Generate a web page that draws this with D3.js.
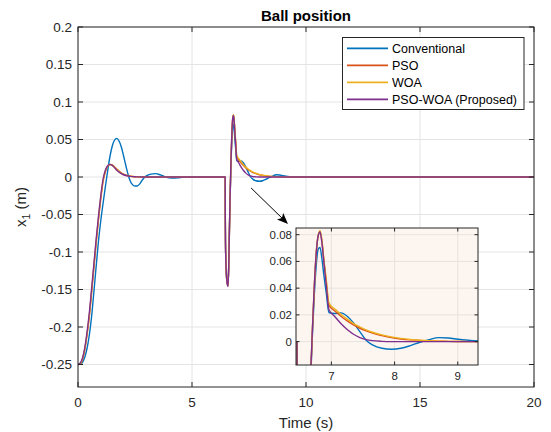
<!DOCTYPE html>
<html><head><meta charset="utf-8">
<script src="https://cdn.jsdelivr.net/npm/d3@7"></script>
<style>
body{margin:0;background:#fff}
text{font-family:"Liberation Sans",Arial,Helvetica,sans-serif;fill:#262626}
</style>
</head><body><svg id="c" width="551" height="432"></svg>
<script>
// ---- data ----
const time = [
  0, 0.1, 0.2, 0.3, 0.4, 0.5, 0.6, 0.7, 0.8, 0.9,
  1.0, 1.1, 1.2, 1.3, 1.4, 1.5, 1.6, 1.7, 1.8, 1.9,
  2.0, 2.1, 2.2, 2.3, 2.4, 2.5, 2.6, 2.7, 2.8, 2.9,
  3.0, 3.2, 3.4, 3.6, 3.8, 4.0, 4.2, 4.4, 4.6, 5.0,
  6.0, 6.455, 6.46, 6.47, 6.50, 6.54, 6.58, 6.61, 6.64, 6.67,
  6.70, 6.73, 6.76, 6.79, 6.82, 6.85, 6.88, 6.92, 6.96, 7.05,
  7.15, 7.25, 7.35, 7.45, 7.55, 7.65, 7.8, 7.95, 8.1, 8.25,
  8.4, 8.55, 8.7, 8.85, 9.0, 9.2, 9.4, 9.7, 10, 20
];
const conventional = [
  -0.25, -0.2495, -0.247, -0.24, -0.228, -0.21, -0.185, -0.152, -0.118, -0.085,
  -0.058, -0.035, -0.013, 0.008, 0.027, 0.041, 0.049, 0.0515, 0.048, 0.04,
  0.028, 0.015, 0.003, -0.006, -0.0105, -0.012, -0.012, -0.0095, -0.005, -0.001,
  0.0015, 0.0038, 0.0045, 0.003, 0.0005, -0.0012, -0.0015, -0.001, -0.0003, 0,
  0, 0, -0.05, -0.09, -0.123, -0.14, -0.144, -0.12, -0.074, -0.03,
  0.005, 0.035, 0.057, 0.069, 0.0705, 0.062, 0.05, 0.036, 0.0218, 0.021,
  0.0215, 0.019, 0.014, 0.0075, 0.001, -0.0025, -0.005, -0.0057, -0.005, -0.003,
  -0.0005, 0.0015, 0.003, 0.0027, 0.0018, 0.0008, 0.0003, 0, 0, 0
];
const pso = [
  -0.25, -0.249, -0.243, -0.23, -0.21, -0.185, -0.153, -0.12, -0.087, -0.056,
  -0.029, -0.006, 0.007, 0.0145, 0.0167, 0.016, 0.0135, 0.0105, 0.0078, 0.0055,
  0.0038, 0.0026, 0.0017, 0.0011, 0.0007, 0.0004, 0.0002, 0.0001, 0, 0,
  0, 0, 0, 0, 0, 0, 0, 0, 0, 0,
  0, 0, -0.05, -0.09, -0.124, -0.141, -0.145, -0.12, -0.073, -0.028,
  0.009, 0.041, 0.066, 0.079, 0.0825, 0.075, 0.061, 0.044, 0.0275, 0.023,
  0.019, 0.0155, 0.0125, 0.01, 0.008, 0.0063, 0.0045, 0.003, 0.002, 0.0013,
  0.0008, 0.0005, 0.0003, 0.0002, 0.0001, 0, 0, 0, 0, 0
];
const woa = [
  -0.25, -0.249, -0.242, -0.229, -0.208, -0.183, -0.151, -0.118, -0.085, -0.054,
  -0.027, -0.005, 0.008, 0.0145, 0.0167, 0.0158, 0.013, 0.01, 0.0072, 0.005,
  0.0034, 0.0023, 0.0015, 0.001, 0.0006, 0.0004, 0.0002, 0.0001, 0, 0,
  0, 0, 0, 0, 0, 0, 0, 0, 0, 0,
  0, 0, -0.05, -0.09, -0.124, -0.141, -0.145, -0.12, -0.073, -0.028,
  0.009, 0.041, 0.066, 0.079, 0.083, 0.076, 0.062, 0.046, 0.029, 0.0245,
  0.0205, 0.0168, 0.0135, 0.011, 0.0088, 0.007, 0.005, 0.0035, 0.0024, 0.0016,
  0.001, 0.0006, 0.0004, 0.0002, 0.0001, 0, 0, 0, 0, 0
];
const psoWoa = [
  -0.25, -0.248, -0.241, -0.227, -0.206, -0.18, -0.148, -0.115, -0.082, -0.052,
  -0.025, -0.003, 0.009, 0.015, 0.0168, 0.0155, 0.0125, 0.009, 0.0065, 0.0045,
  0.003, 0.002, 0.0013, 0.0008, 0.0005, 0.0003, 0.0002, 0.0001, 0, 0,
  0, 0, 0, 0, 0, 0, 0, 0, 0, 0,
  0, 0, -0.05, -0.09, -0.125, -0.142, -0.146, -0.12, -0.072, -0.027,
  0.01, 0.042, 0.066, 0.079, 0.082, 0.074, 0.06, 0.042, 0.024, 0.019,
  0.0135, 0.009, 0.0055, 0.003, 0.0015, 0.0007, 0.0002, 0, 0, 0,
  0, 0, 0, 0, 0, 0, 0, 0, 0, 0
];
const seriesNames = ["Conventional", "PSO", "WOA", "PSO-WOA (Proposed)"];
const seriesColors = ["#0072BD", "#D95319", "#EDB120", "#7E2F8E"];
const xTicks = [0, 5, 10, 15, 20];
const yTicks = [-0.25, -0.2, -0.15, -0.1, -0.05, 0, 0.05, 0.1, 0.15, 0.2];
const insetXTicks = [7, 8, 9];
const insetYTicks = [0, 0.02, 0.04, 0.06, 0.08];
const arrowFrom = [7.59, -0.0146];
const arrowTo = [9.21, -0.0625];

// ---- drawing ----
const allSeries = [conventional, pso, woa, psoWoa].map((vals, i) => ({
  name: seriesNames[i], color: seriesColors[i],
  pts: time.map((t, k) => [t, vals[k]])
}));
const fmt = v => String(+v.toFixed(3));
const svg = d3.select("#c");
const AX = "#262626", GRID = "#e4e4e4";

function panel(g, x, y, xt, yt, opts) {
  const [x0, x1] = x.range(), [y0, y1] = y.range(); // y0 bottom, y1 top
  if (opts.bg) g.append("rect").attr("x", x0).attr("y", y1).attr("width", x1 - x0).attr("height", y0 - y1).attr("fill", opts.bg);
  // grid
  g.selectAll(null).data(xt).enter().append("line")
    .attr("x1", d => x(d)).attr("x2", d => x(d)).attr("y1", y0).attr("y2", y1)
    .attr("stroke", opts.grid).attr("stroke-width", 1);
  g.selectAll(null).data(yt).enter().append("line")
    .attr("y1", d => y(d)).attr("y2", d => y(d)).attr("x1", x0).attr("x2", x1)
    .attr("stroke", opts.grid).attr("stroke-width", 1);
  // lines
  const cid = "clip" + opts.id;
  g.append("clipPath").attr("id", cid).append("rect")
    .attr("x", x0).attr("y", y1).attr("width", x1 - x0).attr("height", y0 - y1);
  const line = d3.line().x(d => x(d[0])).y(d => y(d[1])).curve(d3.curveMonotoneX);
  const lg = g.append("g").attr("clip-path", `url(#${cid})`);
  allSeries.forEach(s => {
    lg.append("path").attr("d", line(s.pts)).attr("fill", "none")
      .attr("stroke", s.color).attr("stroke-width", 1.4).attr("stroke-linejoin", "round");
  });
  // ticks inward on all sides
  const tl = opts.tick;
  xt.forEach(d => {
    g.append("line").attr("x1", x(d)).attr("x2", x(d)).attr("y1", y0).attr("y2", y0 - tl).attr("stroke", AX);
    g.append("line").attr("x1", x(d)).attr("x2", x(d)).attr("y1", y1).attr("y2", y1 + tl).attr("stroke", AX);
  });
  yt.forEach(d => {
    g.append("line").attr("y1", y(d)).attr("y2", y(d)).attr("x1", x0).attr("x2", x0 + tl).attr("stroke", AX);
    g.append("line").attr("y1", y(d)).attr("y2", y(d)).attr("x1", x1).attr("x2", x1 - tl).attr("stroke", AX);
  });
  g.append("rect").attr("x", x0).attr("y", y1).attr("width", x1 - x0).attr("height", y0 - y1)
    .attr("fill", "none").attr("stroke", AX).attr("stroke-width", 1);
  // labels
  g.selectAll(null).data(xt).enter().append("text")
    .attr("x", d => x(d)).attr("y", y0 + opts.xlOff).attr("text-anchor", "middle")
    .attr("font-size", opts.fs).text(fmt);
  g.selectAll(null).data(yt).enter().append("text")
    .attr("x", x0 - opts.ylOff).attr("y", d => y(d)).attr("dy", "0.35em").attr("text-anchor", "end")
    .attr("font-size", opts.fs).text(fmt);
}

const x = d3.scaleLinear([0, 20], [78, 534]);
const y = d3.scaleLinear([-0.28, 0.2], [387, 27]);
const main = svg.append("g");
panel(main, x, y, xTicks, yTicks, {id: "m", grid: GRID, tick: 5, fs: 13.5, xlOff: 20, ylOff: 6});

// title and axis labels
svg.append("text").attr("x", 306).attr("y", 21).attr("text-anchor", "middle")
  .attr("font-size", 15).attr("font-weight", "bold").attr("fill", "#000").style("fill", "#000").text("Ball position");
svg.append("text").attr("x", 306).attr("y", 428).attr("text-anchor", "middle")
  .attr("font-size", 15).text("Time (s)");
const yl = svg.append("text").attr("transform", "translate(26,207) rotate(-90)")
  .attr("text-anchor", "middle").attr("font-size", 15);
yl.append("tspan").text("x");
yl.append("tspan").attr("font-size", 10.5).attr("dy", 4).text("1");
yl.append("tspan").attr("dy", -4).text(" (m)");

// legend
const leg = svg.append("g");
leg.append("rect").attr("x", 342.5).attr("y", 37.5).attr("width", 181.5).attr("height", 72)
  .attr("fill", "#fff").attr("stroke", AX).attr("stroke-width", 1);
allSeries.forEach((s, i) => {
  const yy = 48.3 + i * 17;
  leg.append("line").attr("x1", 347).attr("x2", 388).attr("y1", yy).attr("y2", yy)
    .attr("stroke", s.color).attr("stroke-width", 1.8);
  leg.append("text").attr("x", 392).attr("y", yy).attr("dy", "0.35em")
    .attr("font-size", 12.5).style("fill", "#000").text(s.name);
});

// arrow
const ax1 = x(arrowFrom[0]), ay1 = y(arrowFrom[1]), ax2 = x(arrowTo[0]), ay2 = y(arrowTo[1]);
const ang = Math.atan2(ay2 - ay1, ax2 - ax1), hl = 11, hw = 4.5;
const bx = ax2 - hl * Math.cos(ang), by = ay2 - hl * Math.sin(ang);
svg.append("line").attr("x1", ax1).attr("y1", ay1).attr("x2", bx + 3 * Math.cos(ang)).attr("y2", by + 3 * Math.sin(ang))
  .attr("stroke", "#000").attr("stroke-width", 1);
svg.append("path").attr("d", `M${ax2},${ay2}L${bx - hw * Math.sin(ang)},${by + hw * Math.cos(ang)}L${bx + 2.5 * Math.cos(ang)},${by + 2.5 * Math.sin(ang)}L${bx + hw * Math.sin(ang)},${by - hw * Math.cos(ang)}Z`)
  .attr("fill", "#000");

// inset
const xi = d3.scaleLinear([6.44, 9.32], [296, 478]);
const yi = d3.scaleLinear([-0.0175, 0.085], [365, 228]);
const inset = svg.append("g");
panel(inset, xi, yi, insetXTicks, insetYTicks, {id: "i", bg: "#fdf5ef", grid: "#e6e2df", tick: 3.5, fs: 11.5, xlOff: 15, ylOff: 4});
</script>
</body></html>
